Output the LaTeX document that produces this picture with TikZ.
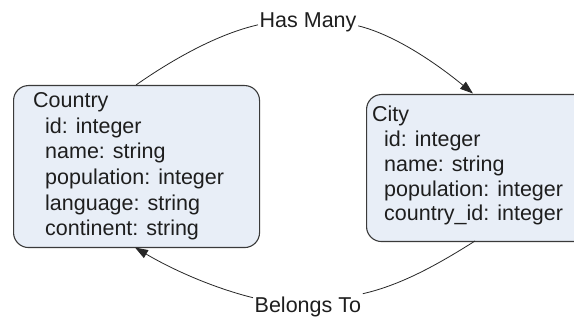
\documentclass[tikz,border=0pt]{standalone}
\usepackage{fontspec}
\setmainfont{Liberation Sans}
\usetikzlibrary{arrows.meta}
\definecolor{boxfill}{HTML}{E8EEF7}
\definecolor{boxline}{HTML}{3A3A3A}
\definecolor{txt}{HTML}{1E1E1E}
\begin{document}
\begin{tikzpicture}[x=1pt,y=-1pt,
  entity/.style={draw=boxline, fill=boxfill, line width=1.1pt, rounded corners=15pt, inner sep=0pt},
  fields/.style={anchor=north west, align=left, inner sep=0pt, text=txt, font=\fontsize{21.5}{25.6}\selectfont},
  cityfields/.style={fields, font=\fontsize{21.5}{24.8}\selectfont},
  lbl/.style={anchor=base west, inner sep=1.5pt, text=txt, font=\fontsize{21.5}{26}\selectfont},
  conn/.style={draw=black!85, line width=0.8pt},
  tip/.style={-{Triangle[length=13pt,width=9pt]}}]
\useasboundingbox (0,0) rectangle (574,320);
\fill[white] (0,0) rectangle (574,320);
\clip (0,0) rectangle (574,320);
% entity boxes
\node[entity, minimum width=246pt, minimum height=162pt, anchor=north west] (country) at (13,85) {};
\node[entity, minimum width=224pt, minimum height=147pt, anchor=north west] (city) at (366,94) {};
% field texts
\node[fields] (countrytxt) at (33,92.5) {Country\\
\hspace*{12pt}id: integer\\
\hspace*{12pt}name: string\\
\hspace*{12pt}population: integer\\
\hspace*{12pt}language: string\\
\hspace*{12pt}continent: string};
\node[cityfields] (citytxt) at (372,106) {City\\
\hspace*{12pt}id: integer\\
\hspace*{12pt}name: string\\
\hspace*{12pt}population: integer\\
\hspace*{12pt}country\_id: integer};
% relation labels
\node[lbl] (hasmany) at (258,28) {Has Many};
\node[lbl] (belongs) at (253,313) {Belongs To};
% connector end points on the boxes
\coordinate (cTop) at (136,85);
\coordinate (yTop) at (473,93.5);
\coordinate (yBot) at (475,241);
\coordinate (cBot) at (135,247.5);
% Has Many
\draw[conn] (cTop) .. controls (172.9,59.2) and (217.7,34) .. ([yshift=-2pt]hasmany.west);
\draw[conn, tip] ([yshift=-3pt]hasmany.east) .. controls (395.7,35) and (438,64.7) .. (yTop);
% Belongs To
\draw[conn] (yBot) .. controls (437,265) and (401,285) .. ([yshift=2pt]belongs.north east);
\draw[conn, tip] ([yshift=-2pt]belongs.north west) .. controls (214,288) and (174,270.5) .. (cBot);
\end{tikzpicture}
\end{document}
